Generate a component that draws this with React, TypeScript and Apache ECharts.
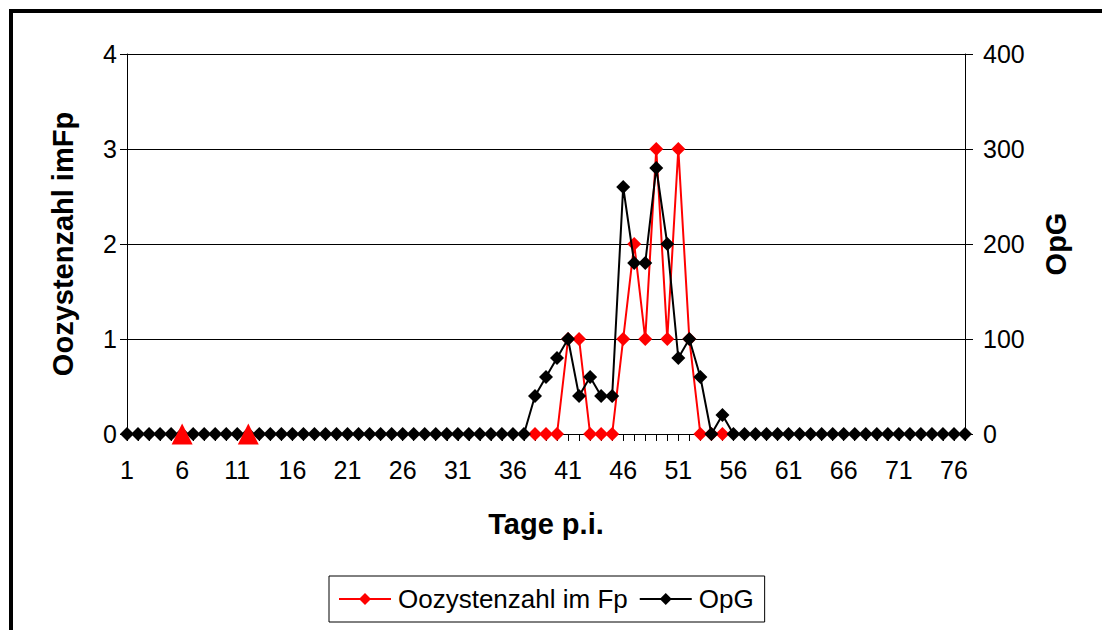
import React, { useEffect, useRef } from "react";
import * as echarts from "echarts";

const days: string[] = Array.from({ length: 77 }, (_, i) => String(i + 1));

// Oozystenzahl im Fp, days 38..55 (null elsewhere)
const fpStartDay = 38;
const fpValues: number[] = [0, 0, 0, 1, 1, 0, 0, 0, 1, 2, 1, 3, 1, 3, 1, 0, 0, 0];

// OpG, values for days 38..55; other days 0
const opgStartDay = 38;
const opgValues: number[] = [40, 60, 80, 100, 40, 60, 40, 40, 260, 180, 180, 280, 200, 80, 100, 60, 0, 20];

// Marker days (red triangles)
const markerDays: number[] = [6, 12];

const leftTicks = { min: 0, max: 4, interval: 1 };
const rightTicks = { min: 0, max: 400, interval: 100 };

const FONT = "'Liberation Sans', Arial, sans-serif";

export default function App() {
  const ref = useRef<HTMLDivElement>(null);
  useEffect(() => {
    if (!ref.current) return;
    const chart = echarts.init(ref.current, undefined, { renderer: "svg" });

    const fpData = days.map((d) => {
      const i = Number(d) - fpStartDay;
      return i >= 0 && i < fpValues.length ? fpValues[i] : null;
    });
    const opgData = days.map((d) => {
      const i = Number(d) - opgStartDay;
      return i >= 0 && i < opgValues.length ? opgValues[i] : 0;
    });
    const markerData = days.map((d) => (markerDays.includes(Number(d)) ? 0 : null));

    chart.setOption({
      animation: false,
      textStyle: { fontFamily: FONT, color: "#000" },
      graphic: [
        {
          type: "rect",
          shape: { x: 11, y: 11, width: 1300, height: 800 },
          style: { fill: "none", stroke: "#000", lineWidth: 4 },
          silent: true,
        },
      ],
      grid: { left: 127, right: 137, top: 54, bottom: 196, containLabel: false },
      legend: {
        data: ["Oozystenzahl im Fp", "OpG"],
        left: 329,
        top: 576,
        padding: [10, 11, 10, 9],
        borderColor: "#000",
        borderWidth: 1,
        itemWidth: 52,
        itemHeight: 15,
        itemGap: 11,
        textStyle: { fontFamily: FONT, fontSize: 26, color: "#000", padding: [0, 0, 0, 2] },
      },
      xAxis: {
        type: "category",
        data: days,
        boundaryGap: false,
        name: "Tage p.i.",
        nameLocation: "middle",
        nameGap: 75,
        nameTextStyle: { fontFamily: FONT, fontSize: 29, fontWeight: "bold", color: "#000" },
        axisLine: { lineStyle: { color: "#000", width: 1 } },
        axisTick: { show: true, interval: 0, length: 7, lineStyle: { color: "#000" } },
        axisLabel: { interval: 4, fontSize: 25, color: "#000", margin: 23, fontFamily: FONT },
        splitLine: { show: false },
      },
      yAxis: [
        {
          type: "value",
          position: "left",
          min: leftTicks.min,
          max: leftTicks.max,
          interval: leftTicks.interval,
          name: "Oozystenzahl imFp",
          nameLocation: "middle",
          nameGap: 50,
          nameTextStyle: { fontFamily: FONT, fontSize: 29, fontWeight: "bold", color: "#000" },
          axisLine: { show: true, lineStyle: { color: "#000", width: 1 } },
          axisTick: { show: true, length: 7, lineStyle: { color: "#000" } },
          axisLabel: { fontSize: 25, color: "#000", margin: 10, fontFamily: FONT },
          splitLine: { show: true, lineStyle: { color: "#000", width: 1 } },
        },
        {
          type: "value",
          position: "right",
          min: rightTicks.min,
          max: rightTicks.max,
          interval: rightTicks.interval,
          name: "OpG",
          nameLocation: "middle",
          nameGap: 76,
          nameRotate: 90,
          nameTextStyle: { fontFamily: FONT, fontSize: 29, fontWeight: "bold", color: "#000" },
          axisLine: { show: true, lineStyle: { color: "#000", width: 1 } },
          axisTick: { show: true, length: 8, lineStyle: { color: "#000" } },
          axisLabel: { fontSize: 25, color: "#000", margin: 18, fontFamily: FONT },
          splitLine: { show: false },
        },
      ],
      series: [
        {
          name: "Oozystenzahl im Fp",
          type: "line",
          yAxisIndex: 0,
          data: fpData,
          symbol: "diamond",
          symbolSize: 14,
          showAllSymbol: true,
          connectNulls: false,
          itemStyle: { color: "#ff0000" },
          lineStyle: { color: "#ff0000", width: 2 },
          z: 2,
        },
        {
          name: "OpG",
          type: "line",
          yAxisIndex: 1,
          data: opgData,
          symbol: "diamond",
          symbolSize: 14,
          showAllSymbol: true,
          itemStyle: { color: "#000" },
          lineStyle: { color: "#000", width: 2 },
          z: 3,
        },
        {
          name: "Marker",
          type: "line",
          yAxisIndex: 0,
          data: markerData,
          symbol: "triangle",
          symbolSize: [21, 21],
          showAllSymbol: true,
          lineStyle: { width: 0, opacity: 0 },
          itemStyle: { color: "#ff0000" },
          z: 4,
        },
      ],
    });
    return () => chart.dispose();
  }, []);
  return (
    <div
      ref={ref}
      style={{ position: "absolute", left: 0, top: 0, width: 1102, height: 630, background: "#fff" }}
    />
  );
}
